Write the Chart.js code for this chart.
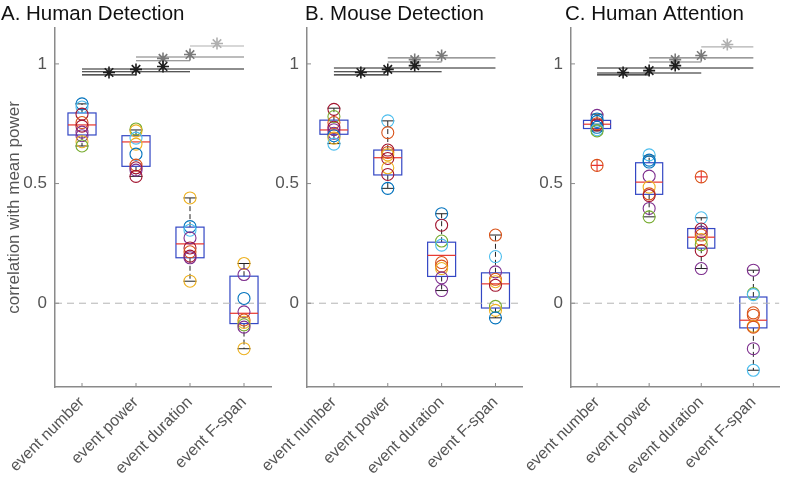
<!DOCTYPE html>
<html>
<head>
<meta charset="utf-8">
<script src="https://cdn.jsdelivr.net/npm/chart.js@4.4.1/dist/chart.umd.min.js"></script>
<style>
  html, body { margin: 0; padding: 0; background: #fff; }
  #wrap { position: relative; width: 787px; height: 479px; overflow: hidden; }
  canvas { position: absolute; top: 0; }
</style>
</head>
<body>
<div id="wrap">
  <canvas id="chartA" width="285" height="479" style="left:0px"></canvas>
  <canvas id="chartB" width="280" height="479" style="left:250px"></canvas>
  <canvas id="chartC" width="277" height="479" style="left:510px"></canvas>
</div>
<script>
const categories = ['event number', 'event power', 'event duration', 'event F-span'];
const yTicks = [0, 0.5, 1];
const matlabColors = ['#0072BD', '#D95319', '#EDB120', '#7E2F8E', '#77AC30', '#4DBEEE', '#A2142F'];

// [lower whisker, q1, median, q3, upper whisker] per category
const humanDetBoxes = [
    [0.657, 0.703, 0.745, 0.795, 0.833],
    [0.53, 0.572, 0.674, 0.70, 0.724],
    [0.092, 0.19, 0.248, 0.318, 0.44],
    [-0.19, -0.085, -0.042, 0.113, 0.166]
];
const humanDetValues = [
    [0.833, 0.82, 0.79, 0.755, 0.74, 0.715, 0.70, 0.675, 0.657],
    [0.728, 0.72, 0.69, 0.665, 0.623, 0.577, 0.566, 0.556, 0.53],
    [0.44, 0.32, 0.305, 0.273, 0.231, 0.215, 0.197, 0.19, 0.092],
    [0.166, 0.12, 0.02, -0.036, -0.07, -0.08, -0.09, -0.1, -0.19]
];
const humanDetColors = [
    [0, 5, 6, 1, 6, 3, 3, 2, 4],
    [4, 2, 5, 2, 0, 1, 6, 3, 6],
    [2, 0, 5, 3, 6, 1, 6, 3, 2],
    [2, 3, 0, 3, 1, 2, 4, 3, 2]
];
const humanDetOutliers = [[], [], [], []];
const humanDetPairs = [[1, 2], [1, 3], [1, 4], [2, 3], [2, 4], [3, 4]];
const humanDetLevels = [0.954, 0.967, 0.979, 1.013, 1.029, 1.075];

const mouseDetBoxes = [
    [0.667, 0.706, 0.724, 0.765, 0.815],
    [0.48, 0.536, 0.608, 0.64, 0.762],
    [0.053, 0.112, 0.2, 0.255, 0.374],
    [-0.061, -0.02, 0.081, 0.127, 0.285]
];
const mouseDetValues = [
    [0.81, 0.78, 0.755, 0.735, 0.725, 0.71, 0.70, 0.69, 0.665],
    [0.762, 0.713, 0.64, 0.63, 0.62, 0.605, 0.566, 0.538, 0.48],
    [0.374, 0.326, 0.26, 0.243, 0.17, 0.155, 0.145, 0.106, 0.053],
    [0.285, 0.195, 0.131, 0.1, 0.09, 0.075, -0.013, -0.03, -0.061]
];
const mouseDetColors = [
    [6, 4, 1, 6, 3, 3, 0, 2, 5],
    [5, 1, 6, 1, 2, 6, 2, 6, 0],
    [0, 6, 4, 5, 1, 1, 2, 3, 3],
    [1, 5, 3, 1, 2, 6, 4, 2, 0]
];
const mouseDetOutliers = [[], [], [], []];
const mouseDetPairs = [[1, 2], [1, 3], [1, 4], [2, 3], [2, 4]];
const mouseDetLevels = [0.954, 0.967, 0.983, 1.008, 1.025];

const humanAttBoxes = [
    [0.72, 0.73, 0.748, 0.764, 0.79],
    [0.361, 0.455, 0.506, 0.587, 0.615],
    [0.145, 0.23, 0.276, 0.312, 0.357],
    [-0.28, -0.103, -0.071, 0.026, 0.138]
];
const humanAttValues = [
    [0.785, 0.77, 0.76, 0.75, 0.745, 0.735, 0.725, 0.72, 0.576],
    [0.62, 0.598, 0.59, 0.531, 0.485, 0.457, 0.45, 0.396, 0.361],
    [0.528, 0.357, 0.31, 0.297, 0.285, 0.266, 0.245, 0.22, 0.145],
    [0.138, 0.04, 0.036, -0.04, -0.05, -0.096, -0.1, -0.19, -0.28]
];
const humanAttColors = [
    [3, 0, 0, 1, 6, 0, 5, 4, 1],
    [5, 0, 0, 3, 2, 1, 6, 3, 4],
    [1, 5, 6, 3, 1, 2, 4, 6, 3],
    [3, 4, 5, 1, 1, 2, 1, 3, 5]
];
const humanAttOutliers = [[0.576], [], [0.528], []];
const humanAttPairs = [[1, 2], [1, 3], [1, 4], [2, 3], [2, 4], [3, 4]];
const humanAttLevels = [0.954, 0.962, 0.983, 1.008, 1.025, 1.071];

const sigShades = ['#1e1e1e', '#7a7a7a', '#b0b0b0'];
const axisColor = '#8a8a8a';
const textColor = '#555555';
const fontFamily = '"Liberation Sans", Arial, sans-serif';

function makeBoxPlugin(boxes) {
    return {
        id: 'boxPlot',
        beforeDatasetsDraw(chart) {
            const ctx = chart.ctx;
            const x = chart.scales.x, y = chart.scales.y;
            boxes.forEach(function (b, i) {
                const cx = x.getPixelForValue(i + 1);
                const hw = x.getPixelForValue(i + 1 + 0.26) - cx;
                const cw = x.getPixelForValue(i + 1 + 0.12) - cx;
                const lo = y.getPixelForValue(b[0]);
                const q1 = y.getPixelForValue(b[1]);
                const med = y.getPixelForValue(b[2]);
                const q3 = y.getPixelForValue(b[3]);
                const hi = y.getPixelForValue(b[4]);
                ctx.save();
                ctx.strokeStyle = '#222';
                ctx.lineWidth = 1;
                ctx.setLineDash([5, 3]);
                ctx.beginPath();
                ctx.moveTo(cx, q3); ctx.lineTo(cx, hi);
                ctx.moveTo(cx, q1); ctx.lineTo(cx, lo);
                ctx.stroke();
                ctx.setLineDash([]);
                ctx.beginPath();
                ctx.moveTo(cx - cw, hi); ctx.lineTo(cx + cw, hi);
                ctx.moveTo(cx - cw, lo); ctx.lineTo(cx + cw, lo);
                ctx.stroke();
                ctx.strokeStyle = '#3347c4';
                ctx.lineWidth = 1.2;
                ctx.strokeRect(cx - hw, q3, 2 * hw, q1 - q3);
                ctx.strokeStyle = '#e8342c';
                ctx.beginPath();
                ctx.moveTo(cx - hw, med); ctx.lineTo(cx + hw, med);
                ctx.stroke();
                ctx.restore();
            });
        }
    };
}

function makeFramePlugin(title, titleX) {
    return {
        id: 'frame',
        afterDraw(chart) {
            const ctx = chart.ctx;
            const x = chart.scales.x, y = chart.scales.y;
            const area = chart.chartArea;
            ctx.save();
            ctx.strokeStyle = axisColor;
            ctx.lineWidth = 1;
            ctx.beginPath();
            [1, 2, 3, 4].forEach(function (v) {
                const px = x.getPixelForValue(v);
                ctx.moveTo(px, area.bottom); ctx.lineTo(px, area.bottom - 4);
            });
            yTicks.forEach(function (v) {
                const py = y.getPixelForValue(v);
                ctx.moveTo(area.left, py); ctx.lineTo(area.left + 4, py);
            });
            ctx.stroke();
            ctx.font = '20.5px ' + fontFamily;
            ctx.fillStyle = '#111';
            ctx.textBaseline = 'alphabetic';
            ctx.fillText(title, titleX, 20);
            ctx.restore();
        }
    };
}

function makePanel(id, opt) {
    const datasets = [];

    // dashed zero line
    datasets.push({
        type: 'line',
        data: [{ x: 0.5, y: 0 }, { x: 4.5, y: 0 }],
        borderColor: '#b4b4b4',
        borderWidth: 1,
        borderDash: [7, 5],
        pointRadius: 0,
        order: 10
    });

    // significance bars and asterisks
    opt.pairs.forEach(function (p, k) {
        const shade = sigShades[p[0] - 1];
        datasets.push({
            type: 'line',
            data: [{ x: p[0], y: opt.levels[k] }, { x: p[1], y: opt.levels[k] }],
            borderColor: shade,
            borderWidth: 1.1,
            pointRadius: 0,
            order: 5
        });
        datasets.push({
            type: 'scatter',
            data: [{ x: (p[0] + p[1]) / 2, y: opt.levels[k] + 0.01 }],
            pointStyle: 'star',
            pointRadius: 6,
            borderColor: shade,
            backgroundColor: shade,
            borderWidth: 1.6,
            order: 4
        });
    });

    // individual subjects
    const pts = [], cols = [];
    opt.values.forEach(function (vals, i) {
        vals.forEach(function (v, j) {
            pts.push({ x: i + 1, y: v });
            cols.push(matlabColors[opt.colors[i][j]]);
        });
    });
    datasets.push({
        type: 'scatter',
        data: pts,
        pointStyle: 'circle',
        pointRadius: 6,
        pointBorderWidth: 1.1,
        pointBorderColor: cols,
        pointBackgroundColor: 'rgba(0,0,0,0)',
        order: 2
    });

    // outliers
    const outs = [];
    opt.outliers.forEach(function (vals, i) {
        vals.forEach(function (v) { outs.push({ x: i + 1, y: v }); });
    });
    datasets.push({
        type: 'scatter',
        data: outs,
        pointStyle: 'cross',
        pointRadius: 6,
        pointBorderWidth: 1.1,
        pointBorderColor: '#e8342c',
        order: 1
    });

    new Chart(document.getElementById(id), {
        type: 'scatter',
        data: { datasets: datasets },
        options: {
            responsive: false,
            animation: false,
            devicePixelRatio: 1,
            layout: { padding: { top: 28, right: opt.padRight, left: 0, bottom: 0 } },
            plugins: {
                legend: { display: false },
                tooltip: { enabled: false }
            },
            scales: {
                x: {
                    type: 'linear',
                    min: 0.5,
                    max: 4.5,
                    afterBuildTicks: function (scale) {
                        scale.ticks = [1, 2, 3, 4].map(function (v) { return { value: v }; });
                    },
                    afterFit: function (scale) {
                        scale.height = 92;
                        scale.paddingLeft = 0;
                        scale.paddingRight = 0;
                    },
                    ticks: {
                        autoSkip: false,
                        minRotation: 45,
                        maxRotation: 45,
                        padding: 6,
                        color: textColor,
                        font: { family: fontFamily, size: 16 },
                        callback: function (v) { return categories[v - 1]; }
                    },
                    grid: { drawOnChartArea: false, drawTicks: false },
                    border: { display: true, color: axisColor, width: 1.5 }
                },
                y: {
                    min: -0.35,
                    max: 1.15,
                    afterBuildTicks: function (scale) {
                        scale.ticks = yTicks.map(function (v) { return { value: v }; });
                    },
                    afterFit: function (scale) {
                        scale.width = opt.yWidth;
                        scale.paddingTop = 0;
                        scale.paddingBottom = 0;
                    },
                    ticks: {
                        padding: 8,
                        color: textColor,
                        font: { family: fontFamily, size: 17 },
                        callback: function (v) { return String(v); }
                    },
                    title: {
                        display: opt.yTitle,
                        text: 'correlation with mean power',
                        color: textColor,
                        padding: { top: 4, bottom: 0 },
                        font: { family: fontFamily, size: 17 }
                    },
                    grid: { drawOnChartArea: false, drawTicks: false },
                    border: { display: true, color: axisColor, width: 1.5 }
                }
            }
        },
        plugins: [makeBoxPlugin(opt.boxes), makeFramePlugin(opt.title, opt.titleX)]
    });
}

makePanel('chartA', {
    title: 'A. Human Detection', titleX: 1, yTitle: true, yWidth: 55, padRight: 14,
    boxes: humanDetBoxes, values: humanDetValues, colors: humanDetColors,
    outliers: humanDetOutliers, pairs: humanDetPairs, levels: humanDetLevels
});
makePanel('chartB', {
    title: 'B. Mouse Detection', titleX: 55, yTitle: false, yWidth: 57, padRight: 7,
    boxes: mouseDetBoxes, values: mouseDetValues, colors: mouseDetColors,
    outliers: mouseDetOutliers, pairs: mouseDetPairs, levels: mouseDetLevels
});
makePanel('chartC', {
    title: 'C. Human Attention', titleX: 55, yTitle: false, yWidth: 61, padRight: 0,
    boxes: humanAttBoxes, values: humanAttValues, colors: humanAttColors,
    outliers: humanAttOutliers, pairs: humanAttPairs, levels: humanAttLevels
});
</script>
</body>
</html>
